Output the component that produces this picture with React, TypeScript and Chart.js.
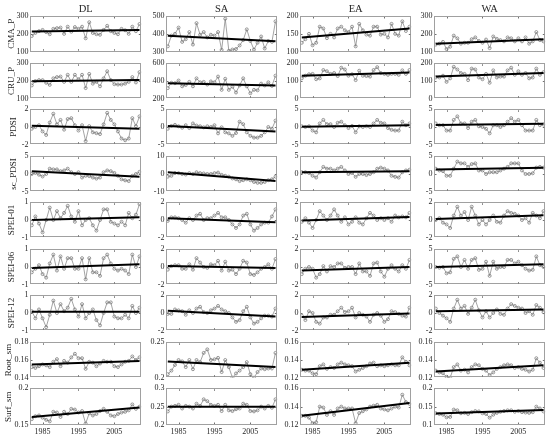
import React, { useEffect, useRef } from 'react';
import { Chart, registerables } from 'chart.js';
Chart.register(...registerables);

const years = [1982, 1983, 1984, 1985, 1986, 1987, 1988, 1989, 1990, 1991, 1992, 1993, 1994, 1995, 1996, 1997, 1998, 1999, 2000, 2001, 2002, 2003, 2004, 2005, 2006, 2007, 2008, 2009, 2010, 2011, 2012];
const regions = ['DL', 'SA', 'EA', 'WA'];
const xTicks = [1985, 1995, 2005];

// values per variable: [DL, SA, EA, WA]
const CMA_P = [
  [188, 205, 215, 222, 210, 198, 228, 232, 235, 200, 240, 212, 238, 228, 240, 175, 265, 205, 198, 195, 222, 245, 215, 205, 198, 228, 220, 200, 240, 215, 255],
  [330, 390, 400, 435, 355, 370, 410, 340, 460, 395, 410, 380, 395, 390, 410, 310, 485, 305, 312, 315, 335, 365, 425, 360, 312, 350, 385, 318, 360, 355, 470],
  [125, 135, 150, 118, 125, 170, 165, 138, 150, 140, 165, 170, 160, 155, 170, 115, 178, 160, 148, 145, 170, 170, 148, 150, 140, 178, 150, 145, 185, 158, 170],
  [140, 145, 155, 115, 128, 190, 175, 145, 150, 150, 170, 180, 160, 150, 168, 120, 185, 172, 165, 158, 180, 175, 158, 175, 158, 180, 145, 158, 210, 165, 158],
];
const CRU_P = [
  [175, 200, 205, 205, 190, 178, 215, 222, 225, 195, 235, 195, 235, 210, 235, 160, 240, 185, 195, 170, 215, 255, 205, 182, 180, 180, 185, 195, 222, 192, 250],
  [320, 380, 375, 405, 340, 355, 390, 340, 430, 385, 390, 360, 395, 385, 450, 300, 425, 300, 335, 270, 350, 430, 340, 262, 300, 295, 370, 350, 385, 345, 460],
  [115, 130, 138, 140, 110, 115, 162, 155, 140, 145, 128, 175, 165, 130, 138, 105, 158, 130, 128, 125, 162, 178, 145, 140, 135, 140, 140, 135, 160, 140, 162],
  [120, 120, 130, 95, 115, 180, 165, 145, 140, 105, 170, 165, 120, 110, 140, 90, 160, 120, 125, 125, 160, 175, 135, 155, 135, 145, 115, 120, 170, 135, 150],
];
const PDSI = [
  [-0.2, 0.0, 0.2, -0.5, -0.9, 0.5, 1.5, 0.3, 0.8, -0.3, 0.9, 1.0, 0.2, -0.4, 0.2, -1.6, 0.1, -0.6, -0.7, -0.8, 0.3, 1.6, 0.8, 0.3, -0.5, -1.3, -1.5, -1.3, 1.0, 0.1, 1.2],
  [-0.5, 0.3, 0.6, 0.2, -0.2, 0.5, -0.3, 1.0, 0.4, 0.2, -0.1, 0.2, 0.0, 0.5, -1.8, -0.1, -1.5, -1.8, -2.5, -1.7, 1.5, 0.8, -1.5, -2.5, -3.0, -3.0, -2.5, -1.5, 0.0, -0.5, 1.8],
  [0.2, 0.0, 0.2, -1.0, -1.5, 1.0, 2.0, 0.8, 0.8, 0.0, 1.2, 1.5, 0.5, -0.3, 0.3, -1.5, 0.2, 0.0, 0.2, 0.0, 1.0, 2.0, 1.2, 1.0, -0.3, -0.8, -1.0, -1.0, 1.5, 0.5, 1.0],
  [1.0, 0.5, 0.5, -1.0, -1.0, 2.0, 3.0, 1.0, 1.0, -0.3, 1.5, 2.0, 0.2, 0.0, -0.5, -1.8, 0.5, 0.5, 0.0, 0.5, 1.5, 2.5, 1.5, 2.0, 0.5, -1.0, -1.0, -1.0, 2.0, 0.5, 0.7],
];
const SC_PDSI = [
  [0.0, 0.3, -0.2, -0.7, 0.0, 1.5, 1.3, 1.3, 0.8, 1.0, 1.5, 0.5, 0.0, 0.5, -1.0, -0.5, -0.6, -1.0, -1.3, -1.0, 0.5, 1.0, 0.8, 0.3, -0.5, -1.5, -1.8, -2.0, -0.5, 0.0, 0.6],
  [-1.5, -1.0, 0.5, 0.5, 0.0, -0.3, 0.5, 0.0, 1.0, 0.5, 0.3, 0.0, 0.0, 0.5, 0.8, -0.5, -1.0, -1.5, -2.5, -3.0, -4.0, -3.5, -3.0, -3.5, -4.5, -5.0, -5.0, -4.5, -3.5, -3.0, -1.5],
  [0.5, 0.5, 0.3, -0.5, -1.0, 0.5, 2.0, 1.5, 1.5, 1.0, 1.5, 2.0, 1.0, 0.0, 0.3, -0.8, 0.0, 0.0, -0.3, 0.0, 0.5, 1.5, 1.8, 1.5, 1.0, -0.5, -0.8, -1.0, 0.5, 1.0, 1.2],
  [1.5, 1.0, 0.8, -0.5, -0.5, 1.5, 3.5, 3.0, 3.0, 2.0, 2.8, 3.0, 1.0, 1.0, 0.0, 0.5, 0.5, 0.5, 1.0, 1.5, 2.0, 3.0, 3.0, 3.0, 1.0, 0.0, 0.0, 0.2, 1.8, 2.0, 1.8],
];
const SPEI_01 = [
  [-0.3, 0.2, -0.2, -0.7, 0.0, 0.7, 0.0, 0.5, 0.1, 0.4, 0.8, 0.2, -0.1, 0.5, -0.3, 0.0, 0.1, -0.3, -0.6, 0.0, 0.6, 0.6, -0.1, -0.2, -0.3, -0.1, -0.3, 0.4, 0.1, 0.3, 0.9],
  [-0.1, 0.3, 0.3, 0.2, 0.0, -0.3, 0.2, 0.0, 0.5, 0.7, 0.0, 0.2, 0.2, 0.5, 0.8, 0.3, 0.3, 0.0, -0.5, -0.9, -0.5, 0.5, 0.7, -0.5, -1.2, -0.9, -0.5, -0.3, -0.3, 0.4, 1.2],
  [-0.2, 0.2, -0.3, -0.9, 0.0, 1.0, 0.5, 0.0, 0.5, 1.2, 0.5, -0.2, 0.3, -0.5, -0.2, 0.3, -0.3, -0.5, 0.2, 0.8, 0.5, 0.0, 0.2, 0.0, 0.2, -0.2, 0.5, 0.3, 0.4, 0.3, 0.8],
  [0.0, 0.2, -0.3, -0.5, -0.9, 0.5, 1.5, 0.5, 0.9, 0.0, 1.5, 0.5, -0.5, 0.0, -0.5, 0.0, 0.5, -0.2, -0.3, 0.5, 1.0, 0.8, 0.7, 0.5, 0.0, 0.2, -0.3, 0.8, 0.5, 0.2, 1.0],
];
const SPEI_06 = [
  [-0.3, -0.1, 0.1, -0.4, -0.6, 0.2, 0.7, -0.2, 0.6, -0.1, 0.5, 0.5, -0.1, -0.1, 0.5, -0.7, 0.5, -0.3, -0.3, -0.5, 0.5, 0.7, 0.2, -0.1, -0.2, -0.1, -0.2, -0.4, 0.7, 0.0, 0.6],
  [-0.3, 0.1, 0.2, 0.2, -0.2, -0.2, 0.3, -0.3, 1.0, 0.5, 0.0, -0.1, 0.3, 0.2, 0.7, -0.4, 0.6, -0.4, -0.3, -0.8, -0.2, 0.7, 0.5, -0.8, -0.9, -0.6, -0.2, 0.0, 0.3, -0.2, 0.9],
  [-0.8, -0.2, 0.0, -0.2, -1.2, -0.8, 0.1, -0.5, 0.1, 0.0, 0.4, 0.4, -0.1, 0.0, 0.0, -0.8, 0.4, -0.5, -0.5, -1.0, 0.4, 0.5, -0.5, -1.1, -0.2, 0.2, -0.2, -0.5, 0.2, -0.2, 0.8],
  [0.0, -0.2, 0.0, -1.8, -1.5, 2.3, 3.0, 0.0, 2.0, -0.5, 2.0, 2.5, -0.8, -0.5, 1.5, -2.5, 1.5, -0.5, 0.0, 0.0, 2.0, 2.0, 1.0, 1.5, 0.5, -0.5, -1.0, -0.8, 3.0, 0.5, 0.0],
];
const SPEI_12 = [
  [0.1, -0.3, 0.2, -0.3, -0.8, -0.1, 0.7, 0.0, 0.5, 0.1, 0.3, 0.8, 0.2, -0.2, 0.5, -0.3, 0.0, 0.2, -0.4, -0.7, 0.0, 0.6, 0.6, -0.2, -0.3, -0.3, -0.1, -0.3, 0.4, 0.0, 0.3],
  [-0.1, -0.1, 0.4, 0.3, 0.2, -0.2, 0.3, 0.0, 0.5, 0.7, 0.1, 0.0, 0.3, 0.5, 0.8, 0.4, 0.2, 0.0, -0.5, -1.0, -0.8, 0.2, 0.7, -0.5, -1.2, -1.0, -0.6, -0.3, -0.3, -0.4, 0.5],
  [-0.3, -0.8, 0.2, 0.0, -1.0, -1.2, -0.5, -0.5, -0.2, -0.2, 0.2, 0.6, 0.1, 0.2, 0.6, -0.5, 0.0, -0.2, -0.4, -1.0, -0.2, 0.0, -0.3, -1.0, -0.7, 0.2, 0.1, -0.1, -0.3, -0.4, 0.6],
  [0.5, 0.0, -0.3, -0.6, -1.0, 0.5, 1.5, 0.5, 0.8, -0.1, 0.6, 1.5, 0.3, -0.5, 0.2, -0.5, 0.0, 0.4, -0.1, -0.2, 0.5, 1.0, 0.8, 0.6, 0.5, 0.0, 0.2, -0.2, 0.9, 0.6, 0.1],
];
const ROOT_SM = [
  [0.152, 0.151, 0.153, 0.155, 0.154, 0.152, 0.158, 0.161, 0.153, 0.159, 0.157, 0.163, 0.167, 0.162, 0.162, 0.150, 0.158, 0.157, 0.153, 0.156, 0.159, 0.158, 0.158, 0.153, 0.152, 0.155, 0.158, 0.159, 0.164, 0.160, 0.163],
  [0.205, 0.21, 0.218, 0.225, 0.223, 0.215, 0.225, 0.212, 0.225, 0.222, 0.235, 0.24, 0.225, 0.226, 0.228, 0.208, 0.225, 0.215, 0.2, 0.206, 0.21, 0.215, 0.222, 0.205, 0.2, 0.208, 0.213, 0.212, 0.213, 0.213, 0.235],
  [0.129, 0.128, 0.128, 0.125, 0.124, 0.133, 0.135, 0.130, 0.132, 0.131, 0.135, 0.137, 0.135, 0.134, 0.133, 0.127, 0.129, 0.131, 0.133, 0.136, 0.137, 0.133, 0.134, 0.133, 0.134, 0.135, 0.134, 0.134, 0.143, 0.138, 0.134],
  [0.128, 0.126, 0.125, 0.121, 0.120, 0.132, 0.135, 0.128, 0.129, 0.126, 0.132, 0.135, 0.134, 0.130, 0.128, 0.123, 0.126, 0.130, 0.132, 0.134, 0.135, 0.134, 0.131, 0.132, 0.130, 0.129, 0.127, 0.129, 0.142, 0.137, 0.131],
];
const SURF_SM = [
  [0.158, 0.162, 0.163, 0.160, 0.157, 0.155, 0.168, 0.167, 0.161, 0.168, 0.165, 0.172, 0.171, 0.167, 0.169, 0.152, 0.166, 0.163, 0.165, 0.169, 0.172, 0.168, 0.163, 0.162, 0.165, 0.167, 0.168, 0.170, 0.178, 0.172, 0.175],
  [0.237, 0.25, 0.252, 0.255, 0.245, 0.252, 0.25, 0.245, 0.258, 0.252, 0.27, 0.265, 0.255, 0.252, 0.255, 0.238, 0.255, 0.24, 0.238, 0.243, 0.245, 0.258, 0.255, 0.238, 0.237, 0.24, 0.25, 0.245, 0.252, 0.247, 0.27],
  [0.130, 0.130, 0.128, 0.122, 0.123, 0.140, 0.139, 0.131, 0.135, 0.131, 0.138, 0.140, 0.138, 0.138, 0.138, 0.122, 0.133, 0.135, 0.137, 0.140, 0.141, 0.142, 0.138, 0.137, 0.136, 0.138, 0.140, 0.139, 0.153, 0.145, 0.143],
  [0.132, 0.130, 0.128, 0.121, 0.122, 0.142, 0.140, 0.132, 0.133, 0.130, 0.135, 0.138, 0.137, 0.132, 0.130, 0.120, 0.128, 0.133, 0.136, 0.138, 0.140, 0.140, 0.136, 0.138, 0.135, 0.134, 0.133, 0.135, 0.150, 0.145, 0.137],
];

// trend line [start, end] per region
const CMA_P_trend = [[213, 222], [390, 358], [140, 165], [145, 170]];
const CRU_P_trend = [[198, 205], [375, 350], [130, 148], [125, 145]];
const PDSI_trend = [[0.15, -0.2], [0.3, -1.3], [0.1, 0.5], [0.6, 0.9]];
const SC_PDSI_trend = [[0.8, -0.8], [1.0, -4.0], [0.5, 0.8], [1.3, 1.8]];
const SPEI_01_trend = [[0.0, 0.15], [0.2, -0.25], [-0.05, 0.35], [0.1, 0.55]];
const SPEI_06_trend = [[-0.05, 0.15], [0.1, -0.1], [-0.4, 0.0], [0.0, 0.8]];
const SPEI_12_trend = [[0.07, 0.07], [0.25, -0.4], [-0.45, -0.05], [0.2, 0.4]];
const ROOT_SM_trend = [[0.155, 0.159], [0.223, 0.215], [0.129, 0.137], [0.127, 0.134]];
const SURF_SM_trend = [[0.161, 0.174], [0.25, 0.25], [0.13, 0.144], [0.131, 0.141]];

// y tick labels per region
const CMA_P_ticks = [[100, 200, 300], [300, 400, 500], [100, 150, 200], [100, 200, 300]];
const CRU_P_ticks = [[100, 200, 300], [200, 400, 600], [0, 100, 200], [0, 100, 200]];
const PDSI_ticks = [[-2, 0, 2], [-5, 0, 5], [-5, 0, 5], [-5, 0, 5]];
const SC_PDSI_ticks = [[-5, 0, 5], [-10, 0, 10], [-5, 0, 5], [-5, 0, 5]];
const SPEI_01_ticks = [[-1, 0, 1], [-2, 0, 2], [-2, 0, 2], [-2, 0, 2]];
const SPEI_06_ticks = [[-1, 0, 1], [-2, 0, 2], [-2, 0, 2], [-5, 0, 5]];
const SPEI_12_ticks = [[-1, 0, 1], [-2, 0, 2], [-2, 0, 2], [-2, 0, 2]];
const ROOT_SM_ticks = [[0.14, 0.16, 0.18], [0.2, 0.25], [0.12, 0.14, 0.16], [0.12, 0.14, 0.16]];
const SURF_SM_ticks = [[0.15, 0.2], [0.2, 0.25, 0.3], [0.12, 0.14, 0.16], [0.1, 0.15, 0.2]];

const rows = [
  { label: 'CMA_P', values: CMA_P, trend: CMA_P_trend, ticks: CMA_P_ticks },
  { label: 'CRU_P', values: CRU_P, trend: CRU_P_trend, ticks: CRU_P_ticks },
  { label: 'PDSI', values: PDSI, trend: PDSI_trend, ticks: PDSI_ticks },
  { label: 'sc_PDSI', values: SC_PDSI, trend: SC_PDSI_trend, ticks: SC_PDSI_ticks },
  { label: 'SPEI-01', values: SPEI_01, trend: SPEI_01_trend, ticks: SPEI_01_ticks },
  { label: 'SPEI-06', values: SPEI_06, trend: SPEI_06_trend, ticks: SPEI_06_ticks },
  { label: 'SPEI-12', values: SPEI_12, trend: SPEI_12_trend, ticks: SPEI_12_ticks },
  { label: 'Root_sm', values: ROOT_SM, trend: ROOT_SM_trend, ticks: ROOT_SM_ticks },
  { label: 'Surf_sm', values: SURF_SM, trend: SURF_SM_trend, ticks: SURF_SM_ticks },
];

// layout
const COL_LEFT = [30, 166, 300, 434];
const PANEL_W = 112;
const PANEL_H = 37;
const rowTop = (r: number) => Math.round(16 + r * 46.5);
const LABEL_X = [11.5, 11.5, 13.5, 13.5, 12, 12, 12, 8.5, 8.5];
const FONT = "'Liberation Serif', 'DejaVu Serif', serif";
const TEXT = '#262626';
const ROW_FONT = 9;

const framePlugin = {
  id: 'frame',
  afterDatasetsDraw(chart: any) {
    const { ctx, chartArea, scales } = chart;
    const { left, top, right, bottom } = chartArea;
    ctx.save();
    ctx.strokeStyle = '#a0a0a0';
    ctx.lineWidth = 1;
    ctx.strokeRect(Math.round(left) + 0.5, Math.round(top) + 0.5, Math.round(right - left) - 1, Math.round(bottom - top) - 1);
    ctx.strokeStyle = '#707070';
    ctx.beginPath();
    xTicks.forEach((v) => {
      const px = Math.round(scales.x.getPixelForValue(v)) + 0.5;
      ctx.moveTo(px, bottom - 1); ctx.lineTo(px, bottom - 2.5);
      ctx.moveTo(px, top + 1); ctx.lineTo(px, top + 2.5);
    });
    (scales.y.ticks || []).forEach((t: any) => {
      const py = Math.round(scales.y.getPixelForValue(t.value)) + 0.5;
      if (py <= top + 2 || py >= bottom - 2) return;
      ctx.moveTo(left + 1, py); ctx.lineTo(left + 2.5, py);
      ctx.moveTo(right - 1, py); ctx.lineTo(right - 2.5, py);
    });
    ctx.stroke();
    ctx.restore();
  },
};

function Panel({ r, c }: { r: number; c: number }) {
  const ref = useRef<HTMLCanvasElement>(null);
  const last = r === rows.length - 1;
  const AX = c === 0 ? 30 : 24;
  const PT = r === 0 ? 16 : 6;
  const PB = last ? 13 : 5;
  const PR = 4;
  const left = COL_LEFT[c] - AX;
  const top = rowTop(r) - PT;
  const w = AX + PANEL_W + PR;
  const h = PT + PANEL_H + PB;

  useEffect(() => {
    const row = rows[r];
    const vals = row.values[c];
    const tr = row.trend[c];
    const yt = row.ticks[c];
    const chart = new Chart(ref.current as HTMLCanvasElement, {
      type: 'line',
      data: {
        datasets: [
          {
            data: [{ x: years[0], y: tr[0] }, { x: years[years.length - 1], y: tr[1] }],
            borderColor: '#000',
            borderWidth: 2,
            pointRadius: 0,
          },
          {
            data: years.map((y, i) => ({ x: y, y: vals[i] })),
            borderColor: '#8c8c8c',
            borderWidth: 0.8,
            pointRadius: 1.5,
            pointBorderWidth: 0.7,
            pointBorderColor: '#707070',
            pointBackgroundColor: 'rgba(255,255,255,0)',
          },
        ],
      },
      options: {
        responsive: false,
        maintainAspectRatio: false,
        animation: false,
        events: [],
        layout: { padding: { top: r === 0 ? 0 : PT, right: PR, bottom: last ? 0 : PB, left: 0 } },
        plugins: {
          legend: { display: false },
          tooltip: { enabled: false },
          title: r === 0
            ? { display: true, text: regions[c], fullSize: false, color: TEXT, font: { family: FONT, size: 10.5, weight: 'normal' }, padding: { top: 3.4, bottom: 0 } }
            : { display: false },
        },
        scales: {
          x: {
            type: 'linear',
            min: 1981.5,
            max: 2012.5,
            display: last,
            afterBuildTicks: (s: any) => { s.ticks = xTicks.map((v) => ({ value: v })); },
            afterFit: (s: any) => { if (last) s.height = PB; },
            ticks: { color: TEXT, font: { family: FONT, size: 8 }, padding: 2, maxRotation: 0, autoSkip: false, callback: (v: any) => String(v) },
            grid: { display: false, drawTicks: false },
            border: { display: false },
          },
          y: {
            type: 'linear',
            min: yt[0],
            max: yt[yt.length - 1],
            afterBuildTicks: (s: any) => { s.ticks = yt.map((v) => ({ value: v })); },
            afterFit: (s: any) => { s.width = AX; },
            ticks: { color: TEXT, font: { family: FONT, size: 8 }, padding: 1.5, autoSkip: false, callback: (v: any) => String(v) },
            grid: { display: false, drawTicks: false },
            border: { display: false },
            title: c === 0
              ? { display: true, text: row.label, color: TEXT, font: { family: FONT, size: ROW_FONT }, padding: { top: LABEL_X[r] - ROW_FONT * 0.6, bottom: 0 } }
              : { display: false },
          },
        },
      } as any,
      plugins: [framePlugin],
    });
    return () => chart.destroy();
  }, []);

  return (
    <canvas
      ref={ref}
      width={w}
      height={h}
      style={{ position: 'absolute', left, top, width: w, height: h }}
    />
  );
}

export default function App() {
  return (
    <div style={{ position: 'absolute', left: 0, top: 0, width: 550, height: 439, background: '#fff', overflow: 'hidden' }}>
      {rows.map((_, r) => regions.map((__, c) => <Panel key={`${r}-${c}`} r={r} c={c} />))}
    </div>
  );
}
